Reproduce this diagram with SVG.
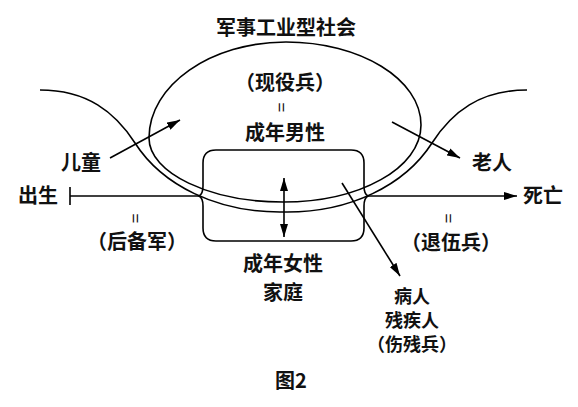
<svg xmlns="http://www.w3.org/2000/svg" width="578" height="407" viewBox="0 0 578 407">
<style>
.ln{fill:none;stroke:#000;stroke-width:1.6;}
.t{font-family:"Noto Sans CJK SC","Noto Sans CJK JP",sans-serif;font-size:20px;font-weight:700;fill:#111;text-anchor:middle;}
.s{font-size:18px;}
.eq{font-family:"Liberation Sans",sans-serif;font-size:17px;fill:#111;text-anchor:middle;}
</style>
<defs>
<marker id="ah" markerUnits="userSpaceOnUse" markerWidth="13" markerHeight="8" refX="13" refY="4" orient="auto-start-reverse">
<path d="M0,0 L13,4 L0,8 Z" fill="#000"/>
</marker>
</defs>
<rect width="578" height="407" fill="#fff"/>

<g id="society">
<path class="ln" d="M286,42 C360,42 421,79 421,125 C421,168 360,202 283,202 C210,202 149,173 149,138 C149,85 211,42 286,42 Z"/>
<text class="t" x="286" y="35" font-size="21">军事工业型社会</text>
<text class="t" x="285" y="90">（现役兵）</text>
<text class="eq" transform="translate(282,107.5) rotate(90)" y="6">=</text>
<text class="t" x="285" y="140">成年男性</text>
</g>

<g id="lifecourse">
<path class="ln" d="M40,90 C87,90 115,112 135,143 C162,185 217,213 283.5,212 C350,213 405,185 432,143 C452,112 480,90 527,90"/>
</g>

<g id="family">
<path class="ln" d="M216,150 H351 Q364,150 364,163 V186 Q364,194 368,196 Q364,198 364,206 V228 Q364,241 351,241 H216 Q203,241 203,228 V206 Q203,198 199,196 Q203,194 203,186 V163 Q203,150 216,150 Z"/>
<text class="t" x="283" y="271">成年女性</text>
<text class="t" x="283" y="300">家庭</text>
</g>

<g id="birth">
<text class="t" x="38" y="203">出生</text>
</g>
<g id="child">
<text class="t" x="81" y="170">儿童</text>
</g>
<g id="reserve">
<text class="eq" transform="translate(136,218.5) rotate(90)" y="6">=</text>
<text class="t" x="137" y="249">（后备军）</text>
</g>
<g id="elder">
<text class="t" x="492" y="170">老人</text>
</g>
<g id="death">
<text class="t" x="543" y="203">死亡</text>
</g>
<g id="veteran">
<text class="eq" transform="translate(449,218.5) rotate(90)" y="6">=</text>
<text class="t" x="451" y="250">（退伍兵）</text>
</g>
<g id="sick">
<text class="t s" x="412" y="303">病人</text>
<text class="t s" x="412" y="327">残疾人</text>
<text class="t s" x="412" y="351">（伤残兵）</text>
</g>
<g id="caption">
<text class="t" x="291" y="388">图2</text>
</g>

<g id="connectors">
<line class="ln" x1="70" y1="187" x2="70" y2="205"/>
<line class="ln" x1="70" y1="196" x2="199" y2="196"/>
<line class="ln" x1="368" y1="196" x2="517" y2="196" marker-end="url(#ah)"/>
<line class="ln" x1="110" y1="158" x2="180" y2="120" marker-end="url(#ah)"/>
<line class="ln" x1="392" y1="122" x2="460" y2="158" marker-end="url(#ah)"/>
<line class="ln" x1="342" y1="183" x2="400" y2="276" marker-end="url(#ah)"/>
<line class="ln" x1="284" y1="178" x2="284" y2="237" marker-start="url(#ah)" marker-end="url(#ah)"/>
</g>
</svg>
